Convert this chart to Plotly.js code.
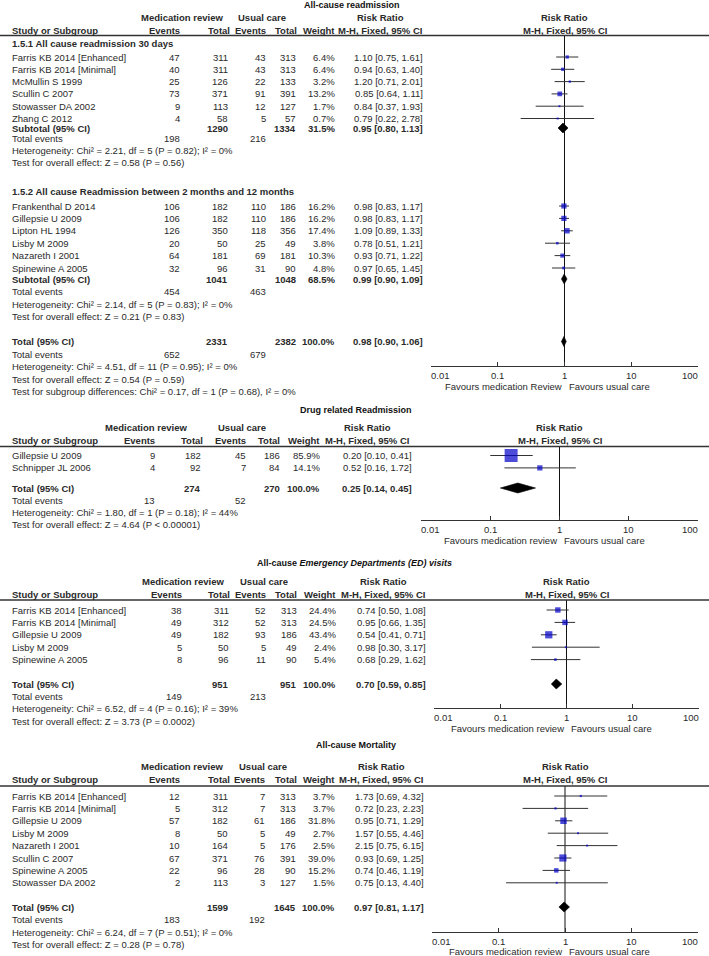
<!DOCTYPE html>
<html><head><meta charset="utf-8">
<script src="https://cdn.plot.ly/plotly-3.0.1.min.js"></script>
<style>html,body{margin:0;padding:0;background:#fff}#chart{width:709px;height:956px}</style>
</head><body><div id="chart"></div>
<script>
// ================= DATA =================
// --- Panel 1: All-cause readmission ---
const readmTitle = 'All-cause readmission';
const r30Label = '1.5.1 All cause readmission 30 days';
const r30Studies = ['Farris KB 2014 [Enhanced]','Farris KB 2014 [Minimal]','McMullin S 1999','Scullin C 2007','Stowasser DA 2002','Zhang C 2012'];
const r30EvMed = [47,40,25,73,9,4];
const r30TotMed = [311,311,126,371,113,58];
const r30EvUsual = [43,43,22,91,12,5];
const r30TotUsual = [313,313,133,391,127,57];
const r30Weight = [6.4,6.4,3.2,13.2,1.7,0.7];
const r30RR = [1.10,0.94,1.20,0.85,0.84,0.79];
const r30Lo = [0.75,0.63,0.71,0.64,0.37,0.22];
const r30Hi = [1.61,1.40,2.01,1.11,1.93,2.78];
const r30Sub = {totMed:1290,totUsual:1334,weight:31.5,rr:0.95,lo:0.80,hi:1.13,evMed:198,evUsual:216,
  het:'Heterogeneity: Chi² = 2.21, df = 5 (P = 0.82); I² = 0%', test:'Test for overall effect: Z = 0.58 (P = 0.56)'};

const r12Label = '1.5.2 All cause Readmission between 2 months and 12 months';
const r12Studies = ['Frankenthal D 2014','Gillepsie U 2009','Lipton HL 1994','Lisby M 2009','Nazareth I 2001','Spinewine A 2005'];
const r12EvMed = [106,106,126,20,64,32];
const r12TotMed = [182,182,350,50,181,96];
const r12EvUsual = [110,110,118,25,69,31];
const r12TotUsual = [186,186,356,49,181,90];
const r12Weight = [16.2,16.2,17.4,3.8,10.3,4.8];
const r12RR = [0.98,0.98,1.09,0.78,0.93,0.97];
const r12Lo = [0.83,0.83,0.89,0.51,0.71,0.65];
const r12Hi = [1.17,1.17,1.33,1.21,1.22,1.45];
const r12Sub = {totMed:1041,totUsual:1048,weight:68.5,rr:0.99,lo:0.90,hi:1.09,evMed:454,evUsual:463,
  het:'Heterogeneity: Chi² = 2.14, df = 5 (P = 0.83); I² = 0%', test:'Test for overall effect: Z = 0.21 (P = 0.83)'};
const readmTotal = {totMed:2331,totUsual:2382,weight:100.0,rr:0.98,lo:0.90,hi:1.06,evMed:652,evUsual:679,
  het:'Heterogeneity: Chi² = 4.51, df = 11 (P = 0.95); I² = 0%', test:'Test for overall effect: Z = 0.54 (P = 0.59)'};
const readmSubgroupTest = 'Test for subgroup differences: Chi² = 0.17, df = 1 (P = 0.68), I² = 0%';
const readmFavours = ['Favours medication Review','Favours usual care'];

// --- Panel 2: Drug related Readmission ---
const drugTitle = 'Drug related Readmission';
const drugStudies = ['Gillepsie U 2009','Schnipper JL 2006'];
const drugEvMed = [9,4];
const drugTotMed = [182,92];
const drugEvUsual = [45,7];
const drugTotUsual = [186,84];
const drugWeight = [85.9,14.1];
const drugRR = [0.20,0.52];
const drugLo = [0.10,0.16];
const drugHi = [0.41,1.72];
const drugTotal = {totMed:274,totUsual:270,weight:100.0,rr:0.25,lo:0.14,hi:0.45,evMed:13,evUsual:52,
  het:'Heterogeneity: Chi² = 1.80, df = 1 (P = 0.18); I² = 44%', test:'Test for overall effect: Z = 4.64 (P < 0.00001)'};
const drugFavours = ['Favours medication review','Favours usual care'];

// --- Panel 3: ED visits ---
const edTitle = 'All-cause <i>Emergency Departments (ED) visits</i>';
const edStudies = ['Farris KB 2014 [Enhanced]','Farris KB 2014 [Minimal]','Gillepsie U 2009','Lisby M 2009','Spinewine A 2005'];
const edEvMed = [38,49,49,5,8];
const edTotMed = [311,312,182,50,96];
const edEvUsual = [52,52,93,5,11];
const edTotUsual = [313,313,186,49,90];
const edWeight = [24.4,24.5,43.4,2.4,5.4];
const edRR = [0.74,0.95,0.54,0.98,0.68];
const edLo = [0.50,0.66,0.41,0.30,0.29];
const edHi = [1.08,1.35,0.71,3.17,1.62];
const edTotal = {totMed:951,totUsual:951,weight:100.0,rr:0.70,lo:0.59,hi:0.85,evMed:149,evUsual:213,
  het:'Heterogeneity: Chi² = 6.52, df = 4 (P = 0.16); I² = 39%', test:'Test for overall effect: Z = 3.73 (P = 0.0002)'};
const edFavours = ['Favours medication review','Favours usual care'];

// --- Panel 4: Mortality ---
const mortTitle = 'All-cause Mortality';
const mortStudies = ['Farris KB 2014 [Enhanced]','Farris KB 2014 [Minimal]','Gillepsie U 2009','Lisby M 2009','Nazareth I 2001','Scullin C 2007','Spinewine A 2005','Stowasser DA 2002'];
const mortEvMed = [12,5,57,8,10,67,22,2];
const mortTotMed = [311,312,182,50,164,371,96,113];
const mortEvUsual = [7,7,61,5,5,76,28,3];
const mortTotUsual = [313,313,186,49,176,391,90,127];
const mortWeight = [3.7,3.7,31.8,2.7,2.5,39.0,15.2,1.5];
const mortRR = [1.73,0.72,0.95,1.57,2.15,0.93,0.74,0.75];
const mortLo = [0.69,0.23,0.71,0.55,0.75,0.69,0.46,0.13];
const mortHi = [4.32,2.23,1.29,4.46,6.15,1.25,1.19,4.40];
const mortTotal = {totMed:1599,totUsual:1645,weight:100.0,rr:0.97,lo:0.81,hi:1.17,evMed:183,evUsual:192,
  het:'Heterogeneity: Chi² = 6.24, df = 7 (P = 0.51); I² = 0%', test:'Test for overall effect: Z = 0.28 (P = 0.78)'};
const mortFavours = ['Favours medication review','Favours usual care'];

const axisTickVals = [0.01,0.1,1,10,100];
const axisTickText = ['0.01','0.1','1','10','100'];

// ================= LAYOUT / STYLE =================
const W = 709, H = 956;
const FONT = '"Liberation Sans", Arial, sans-serif';
const TXT = '#2a2a2a';
const FS = 9.5;
const BLUE = '#0000c8';
const DH = 5; // diamond half-height (px)
const annotations = [], shapes = [], traces = [];
const layout = {
  width:W, height:H, margin:{l:0,r:0,t:0,b:0},
  paper_bgcolor:'#ffffff', plot_bgcolor:'rgba(0,0,0,0)',
  showlegend:false, hovermode:false,
  font:{family:FONT, size:FS, color:TXT},
  xaxis:{range:[0,W], domain:[0,1], visible:false, fixedrange:true},
  yaxis:{range:[H,0], domain:[0,1], visible:false, fixedrange:true}
};

function txt(x, y, s, anchor, font, xref) {
  annotations.push({xref:xref||'x', yref:'y', x:x, y:y, text:s, showarrow:false,
    xanchor:anchor||'left', yanchor:'middle', borderpad:0, borderwidth:0,
    font:Object.assign({family:FONT, size:FS, color:TXT}, font||{})});
}
function fmtRR(r,l,h){ return r.toFixed(2)+' ['+l.toFixed(2)+', '+h.toFixed(2)+']'; }
function B(s){ return '<b>'+s+'</b>'; }

function panelFrame(g, title, favours) {
  const c = g.cols, mid = (g.forest[0]+g.forest[1])/2;
  txt(g.titleX, g.title, B(title), 'center', {size:9, color:'#111'});
  txt(c.med, g.hdr1, B('Medication review'), 'center');
  txt(c.usual, g.hdr1, B('Usual care'), 'center');
  txt(c.rrHdr, g.hdr1, B('Risk Ratio'), 'center');
  txt(mid, g.hdr1, B('Risk Ratio'), 'center');
  txt(c.study, g.hdr2, B('Study or Subgroup'), 'left');
  txt(c.evMed, g.hdr2, B('Events'), 'right');
  txt(c.totMedHdr, g.hdr2, B('Total'), 'right');
  txt(c.evUsual, g.hdr2, B('Events'), 'right');
  txt(c.totUsualHdr, g.hdr2, B('Total'), 'right');
  txt(c.weight, g.hdr2, B('Weight'), 'right');
  txt(c.rrHdr, g.hdr2, B('M-H, Fixed, 95% CI'), 'center');
  txt(mid, g.hdr2, B('M-H, Fixed, 95% CI'), 'center');
  shapes.push({type:'line', xref:'paper', yref:'y', x0:0, x1:1, y0:g.line, y1:g.line, line:{color:'#333', width:1.3}});
  txt(mid-3, g.favY, favours[0], 'right');
  txt(mid+4, g.favY, favours[1], 'left');
  // forest axis (log scale)
  layout['xaxis'+g.axis.slice(1)] = {
    type:'log', domain:[g.forest[0]/W, g.forest[1]/W], range:[-2.001,2.001],
    anchor:'free', position:1-g.axisY/H,
    tickvals:axisTickVals, ticktext:axisTickText, showticklabels:false,
    ticks:'inside', ticklen:4, tickwidth:1, tickcolor:'#333',
    showline:true, linecolor:'#333', linewidth:1.2,
    showgrid:false, zeroline:false, fixedrange:true
  };
  // tick labels: end labels pulled inward, as in the reference
  axisTickVals.forEach((v, i) => {
    const anc = i === 0 ? 'left' : (i === axisTickVals.length-1 ? 'right' : 'center');
    txt(Math.log10(v), g.axisY + 9, axisTickText[i], anc, null, g.axis);
  });
  // line of no effect
  traces.push({type:'scatter', mode:'lines', x:[1,1], y:[g.line, g.axisY], xaxis:g.axis, yaxis:'y',
    line:{color:'#111', width:1}, hoverinfo:'skip'});
}

function studies(g, names, evM, totM, evU, totU, wt, rr, lo, hi, y0, step, boxScale) {
  const c = g.cols;
  const ys = names.map((_, i) => y0 + i*step);
  names.forEach((n, i) => {
    const y = ys[i];
    txt(c.study, y, n, 'left');
    txt(c.evMed, y, String(evM[i]), 'right');
    txt(c.totMed, y, String(totM[i]), 'right');
    txt(c.evUsual, y, String(evU[i]), 'right');
    txt(c.totUsual, y, String(totU[i]), 'right');
    txt(c.weight, y, wt[i].toFixed(1)+'%', 'right');
    txt(c.rr, y, fmtRR(rr[i], lo[i], hi[i]), 'right');
  });
  const cx = [], cy = [];
  ys.forEach((y, i) => { cx.push(lo[i], hi[i], null); cy.push(y, y, null); });
  traces.push({type:'scatter', mode:'lines', x:cx, y:cy, xaxis:g.axis, yaxis:'y',
    line:{color:'#333', width:1}, hoverinfo:'skip', connectgaps:false});
  traces.push({type:'scatter', mode:'markers', x:rr, y:ys, xaxis:g.axis, yaxis:'y',
    marker:{symbol:'square', color:BLUE, size:wt.map(w => Math.max(2, boxScale*Math.sqrt(w))), line:{width:0}},
    hoverinfo:'skip'});
}

function summary(g, label, s, y, yTE, yHet, yTest) {
  const c = g.cols;
  txt(c.study, y, B(label), 'left');
  txt(c.totMed, y, B(s.totMed), 'right');
  txt(c.totUsual, y, B(s.totUsual), 'right');
  txt(c.weight, y, B(s.weight.toFixed(1)+'%'), 'right');
  txt(c.rr, y, B(fmtRR(s.rr, s.lo, s.hi)), 'right');
  txt(c.study, yTE, 'Total events', 'left');
  txt(c.evMed, yTE, String(s.evMed), 'right');
  txt(c.evUsual, yTE, String(s.evUsual), 'right');
  txt(c.study, yHet, s.het, 'left');
  txt(c.study, yTest, s.test, 'left');
  traces.push({type:'scatter', mode:'lines', x:[s.lo, s.rr, s.hi, s.rr, s.lo], y:[y, y-DH, y, y+DH, y],
    xaxis:g.axis, yaxis:'y', fill:'toself', fillcolor:'#000', line:{color:'#000', width:0.6}, hoverinfo:'skip'});
}

// ---- geometry (pixels) ----
const colsA = {study:12, evMed:180, totMed:228, evUsual:266, totUsual:296, weight:335, rr:423,
  med:182, usual:262, rrHdr:380, totMedHdr:230, totUsualHdr:297};
const g1 = {axis:'x2', titleX:352, title:5, hdr1:17, hdr2:30, line:35.5, axisY:366, favY:386, forest:[431,698], cols:colsA};
const g2 = {axis:'x3', titleX:356, title:410, hdr1:427, hdr2:440, line:446.5, axisY:520, favY:540, forest:[421,698],
  cols:{study:12, evMed:155, totMed:201, evUsual:246, totUsual:280, weight:320, rr:412,
        med:146, usual:242, rrHdr:367, totMedHdr:203, totUsualHdr:280}};
const g3 = {axis:'x4', titleX:354, title:563, hdr1:581, hdr2:594, line:600, axisY:708, favY:728, forest:[434,699],
  cols:{study:12, evMed:182, totMed:229, evUsual:266, totUsual:297, weight:336, rr:426,
        med:183, usual:264, rrHdr:383, totMedHdr:230, totUsualHdr:297}};
const g4 = {axis:'x5', titleX:356, title:745, hdr1:766, hdr2:779, line:786, axisY:932, favY:951, forest:[432,698],
  cols:{study:12, evMed:180, totMed:228, evUsual:265, totUsual:296, weight:335, rr:424,
        med:182, usual:263, rrHdr:381, totMedHdr:230, totUsualHdr:297}};
const STEP = 12.4;

// ---- Panel 1 ----
panelFrame(g1, readmTitle, readmFavours);
txt(12, 43.5, B(r30Label), 'left');
studies(g1, r30Studies, r30EvMed, r30TotMed, r30EvUsual, r30TotUsual, r30Weight, r30RR, r30Lo, r30Hi, 57, 12.3, 1.3);
summary(g1, 'Subtotal (95% CI)', r30Sub, 128, 138.5, 150.5, 162.5);
txt(12, 191, B(r12Label), 'left');
studies(g1, r12Studies, r12EvMed, r12TotMed, r12EvUsual, r12TotUsual, r12Weight, r12RR, r12Lo, r12Hi, 206, STEP, 1.3);
summary(g1, 'Subtotal (95% CI)', r12Sub, 279, 291.5, 304, 316.5);
summary(g1, 'Total (95% CI)', readmTotal, 341.5, 354, 366.5, 379);
txt(12, 391.5, readmSubgroupTest, 'left');

// ---- Panel 2 ----
panelFrame(g2, drugTitle, drugFavours);
studies(g2, drugStudies, drugEvMed, drugTotMed, drugEvUsual, drugTotUsual, drugWeight, drugRR, drugLo, drugHi, 455.5, STEP, 1.4);
summary(g2, 'Total (95% CI)', drugTotal, 488, 500, 512, 524);

// ---- Panel 3 ----
panelFrame(g3, edTitle, edFavours);
studies(g3, edStudies, edEvMed, edTotMed, edEvUsual, edTotUsual, edWeight, edRR, edLo, edHi, 610, STEP, 1.1);
summary(g3, 'Total (95% CI)', edTotal, 684, 696, 708.5, 721);

// ---- Panel 4 ----
panelFrame(g4, mortTitle, mortFavours);
studies(g4, mortStudies, mortEvMed, mortTotMed, mortEvUsual, mortTotUsual, mortWeight, mortRR, mortLo, mortHi, 796, STEP, 1.15);
summary(g4, 'Total (95% CI)', mortTotal, 907, 919.5, 932, 944.5);

layout.annotations = annotations;
layout.shapes = shapes;
Plotly.newPlot('chart', traces, layout, {displayModeBar:false, staticPlot:true});
</script>
</body></html>
